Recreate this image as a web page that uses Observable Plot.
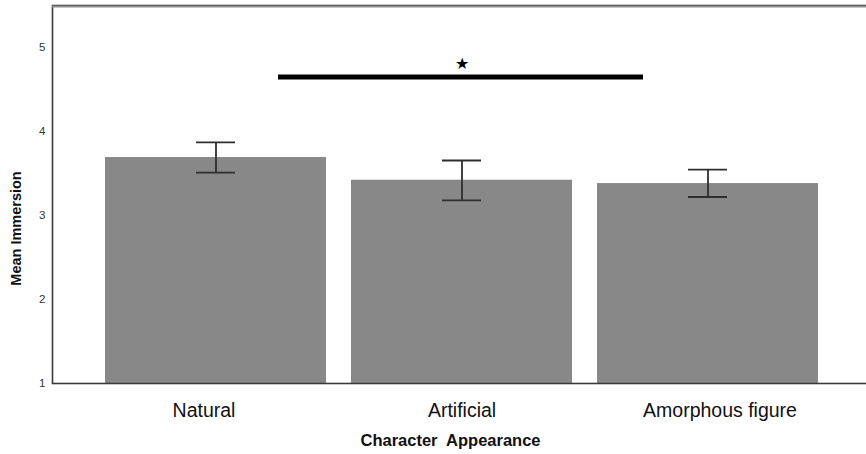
<!DOCTYPE html>
<html>
<head>
<meta charset="utf-8">
<script src="https://cdn.jsdelivr.net/npm/d3@7"></script>
<script src="https://cdn.jsdelivr.net/npm/@observablehq/plot@0.6"></script>
<style>
  html, body { margin: 0; padding: 0; background: #fff; }
  svg { display: block; }
</style>
</head>
<body>
<div id="chart"></div>
<script>
// Data
const categories = ["Natural", "Artificial", "Amorphous figure"];
const means = [3.69, 3.42, 3.38];
const lower = [3.51, 3.18, 3.22];
const upper = [3.87, 3.655, 3.545];
const yTicks = [1, 2, 3, 4, 5];
const sigFrom = ["Natural"];
const sigTo = ["Amorphous figure"];
const sigLevel = [4.65];
const sigMarkAt = ["Artificial"];
const sigMarkLevel = [4.81];
const sigSymbol = ["★"];

const rows = categories.map((c, i) => ({category: c, mean: means[i], lo: lower[i], hi: upper[i]}));
const sig = sigFrom.map((f, i) => ({from: f, to: sigTo[i], y: sigLevel[i]}));
const sigMarks = sigMarkAt.map((c, i) => ({category: c, y: sigMarkLevel[i], text: sigSymbol[i]}));

// tick labels in the reference are spread slightly wider than the bars
const labelShift = [-12, 0, 12];
const tickLabelMarks = categories.map((c, i) =>
  Plot.text([c], {x: d => d, text: d => d, frameAnchor: "bottom", lineAnchor: "middle",
    dy: 27, dx: labelShift[i], fontSize: 19.5, fill: "#111"})
);

const chart = Plot.plot({
  width: 866,
  height: 454,
  marginLeft: 52,
  marginRight: 0,
  marginTop: 5,
  marginBottom: 71,
  style: {fontFamily: "'Liberation Sans', Arial, sans-serif", background: "#fff"},
  x: {
    domain: categories,
    range: [52, 872],
    paddingInner: 0.1,
    paddingOuter: 0.21,
    label: null,
    axis: null
  },
  y: {domain: [1, 5.5], label: null},
  marks: [
    Plot.barY(rows, {x: "category", y1: 1, y2: "mean", fill: "#898888"}),
    Plot.ruleX(rows, {x: "category", y1: "lo", y2: "hi", stroke: "#2e2e2e", strokeWidth: 1.8}),
    Plot.tickY(rows, {x: "category", y: "hi", stroke: "#2e2e2e", strokeWidth: 1.8, insetLeft: 91, insetRight: 91}),
    Plot.tickY(rows, {x: "category", y: "lo", stroke: "#2e2e2e", strokeWidth: 1.8, insetLeft: 91, insetRight: 91}),
    Plot.ruleY(sig, {x1: "from", x2: "to", y: "y", stroke: "#000", strokeWidth: 5, insetLeft: 173, insetRight: 175}),
    Plot.text(sigMarks, {x: "category", y: "y", text: "text", fontSize: 16, fill: "#000"}),
    Plot.frame({stroke: "#3a3a3a", strokeWidth: 1.6, insetRight: -20}),
    Plot.ruleY([5.5], {stroke: "#8c8c8c", strokeWidth: 2.2, dy: 1}),
    Plot.axisY({ticks: yTicks, tickSize: 0, tickPadding: 7, fontSize: 11.5, color: "#333", label: null, tickFormat: d3.format("d")}),
    ...tickLabelMarks,
    Plot.text(["Character  Appearance"], {frameAnchor: "bottom", dx: -9, dy: 62, fontSize: 16.5, fontWeight: "bold", fill: "#111"}),
    Plot.text(["Mean Immersion"], {frameAnchor: "left", textAnchor: "middle", rotate: -90, dx: -36, dy: 34, fontSize: 14.5, fontWeight: "bold", fill: "#111"})
  ]
});
document.getElementById("chart").appendChild(chart);
</script>
</body>
</html>
